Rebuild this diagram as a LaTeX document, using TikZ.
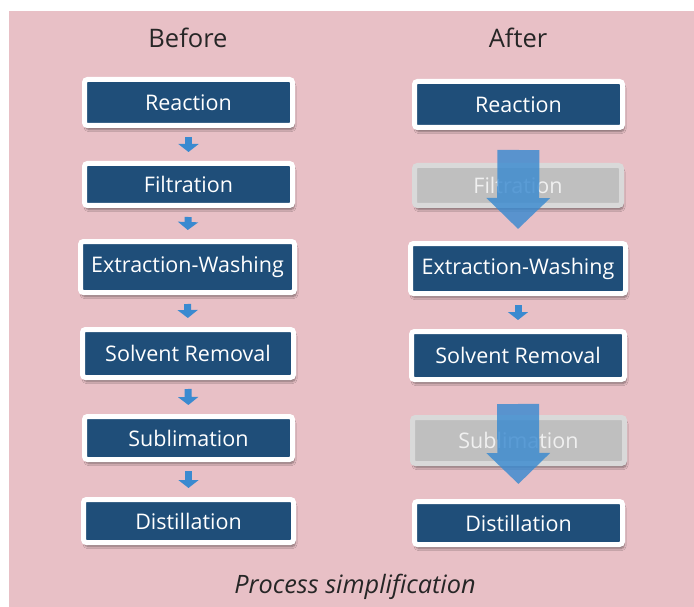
\documentclass[tikz,border=0pt]{standalone}
\usepackage{fontspec}
\setmainfont{Open Sans}
\usetikzlibrary{arrows.meta,shadows.blur}
\definecolor{bgpink}{RGB}{232,192,198}
\definecolor{boxblue}{RGB}{31,78,121}
\definecolor{arrblue}{RGB}{58,138,208}
\definecolor{grayin}{RGB}{191,191,191}
\definecolor{grayout}{RGB}{217,217,217}
\tikzset{
  stepbox/.style={draw=white, fill=boxblue, line width=5pt, rounded corners=3pt,
    inner sep=0pt, text=white, font=\fontsize{21.5}{25}\selectfont,
    blur shadow={shadow xshift=1.5pt, shadow yshift=-4pt, shadow opacity=45, shadow blur steps=8, shadow blur extra rounding=3pt}},
  graybox/.style={stepbox, draw=grayout, fill=grayin, text=white!94!black},
  smallarrow/.style={draw=arrblue, line width=7pt, -{Triangle[width=20pt,length=8pt]}, shorten <=9pt, shorten >=9pt},
  bigarrow/.style={draw=arrblue, line width=42pt, -{Triangle[width=62pt,length=31pt]}},
  heading/.style={font=\fontsize{25.5}{30}\selectfont, text=black!85},
}
\begin{document}
\begin{tikzpicture}[x=1pt,y=-1pt]
\useasboundingbox (0,0) rectangle (694,607);
\fill[bgpink] (9,11) rectangle (694,607);
\node[heading] (hb) at (188,38) {Before};
\node[heading] (ha) at (518,38) {After};
% left column
\node[stepbox, minimum width=208pt, minimum height=46pt] (l1) at (188.5,102.5) {Reaction};
\node[stepbox, minimum width=208pt, minimum height=42pt] (l2) at (188.5,184.5) {Filtration};
\node[stepbox, minimum width=214pt, minimum height=51pt] (l3) at (187.5,267) {Extraction-Washing};
\node[stepbox, minimum width=211pt, minimum height=48pt] (l4) at (188,353.5) {Solvent Removal};
\node[stepbox, minimum width=208pt, minimum height=43pt] (l5) at (188.5,438) {Sublimation};
\node[stepbox, minimum width=210pt, minimum height=43pt] (l6) at (188.5,521) {Distillation};
% right column
\node[stepbox, minimum width=208pt, minimum height=46pt] (r1) at (518.5,104.5) {Reaction};
\node[graybox, minimum width=207pt, minimum height=40pt] (r2) at (518,185.5) {Filtration};
\node[stepbox, minimum width=215pt, minimum height=50pt] (r3) at (518,268.5) {Extraction-Washing};
\node[stepbox, minimum width=213pt, minimum height=48pt] (r4) at (518,355.5) {Solvent Removal};
\node[graybox, minimum width=212pt, minimum height=46pt] (r5) at (518.5,440.5) {Sublimation};
\node[stepbox, minimum width=208pt, minimum height=43pt] (r6) at (518.5,523) {Distillation};
% small arrows
\draw[smallarrow] (l1.south) -- (l2.north);
\draw[smallarrow] (l2.south) -- (l3.north);
\draw[smallarrow] (l3.south) -- (l4.north);
\draw[smallarrow] (l4.south) -- (l5.north);
\draw[smallarrow] (l5.south) -- (l6.north);
\draw[smallarrow] (r3.south) -- (r4.north);
% big arrows
\begin{scope}[transparency group, opacity=0.82]
\draw[bigarrow, shorten <=20pt, shorten >=12pt] (r1.south) -- (r3.north);
\end{scope}
\begin{scope}[transparency group, opacity=0.82]
\draw[bigarrow, shorten <=22pt, shorten >=15pt] (r4.south) -- (r6.north);
\end{scope}
\node[font=\itshape\fontsize{25.3}{30}\selectfont, text=black!85] (cap) at (355,587) {Process simplification};
\end{tikzpicture}
\end{document}
